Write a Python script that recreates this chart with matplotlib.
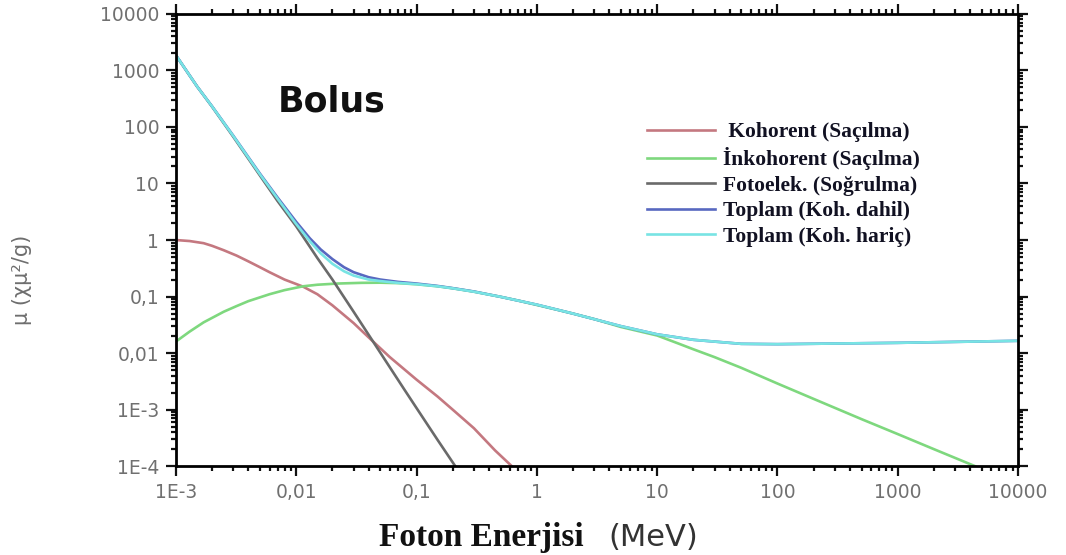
import numpy as np
import matplotlib.pyplot as plt
from matplotlib.ticker import FixedLocator, LogLocator, NullFormatter

# ---------------------------------------------------------
# data: mass attenuation components for Bolus (cm^2/g vs MeV)
# ---------------------------------------------------------
coh_E = [0.001, 0.0013, 0.0017, 0.002, 0.0025, 0.0032, 0.004, 0.005, 0.006, 0.008, 0.0114,
         0.015, 0.02, 0.03, 0.04, 0.06, 0.1, 0.15, 0.2, 0.3, 0.45, 0.62]
coh_mu = [1.0, 0.96, 0.88, 0.79, 0.66, 0.53, 0.42, 0.33, 0.27, 0.2, 0.15,
          0.11, 0.07, 0.034, 0.019, 0.0085, 0.0034, 0.0017, 0.001, 0.00047, 0.00019, 0.0001]

incoh_E = [0.001, 0.0013, 0.0017, 0.002, 0.0025, 0.0032, 0.004, 0.006, 0.008, 0.0114, 0.015,
           0.022, 0.035, 0.05, 0.07, 0.1, 0.15, 0.2, 0.3, 0.5, 0.7, 1, 1.5, 2, 3, 5,
           10, 15, 20, 30, 50, 100, 200, 500, 1000, 2000, 4400]
incoh_mu = [0.016, 0.024, 0.035, 0.042, 0.054, 0.068, 0.083, 0.11, 0.13, 0.152, 0.162,
            0.17, 0.175, 0.176, 0.173, 0.165, 0.152, 0.14, 0.122, 0.099, 0.085, 0.071, 0.058,
            0.05, 0.04, 0.029, 0.0205, 0.0148, 0.0117, 0.0085, 0.0055, 0.0029, 0.00155,
            0.00068, 0.00037, 0.0002, 0.0001]

photo_E = [0.001, 0.0015, 0.002, 0.003, 0.005, 0.007, 0.01, 0.015, 0.02, 0.03, 0.05, 0.08,
           0.1, 0.15, 0.21]
photo_mu = [1850, 520, 228, 67, 13.8, 4.9, 1.75, 0.48, 0.2, 0.054, 0.0102, 0.0022,
            0.00107, 0.00029, 0.0001]

tot_coh_E = [0.001, 0.0015, 0.002, 0.003, 0.005, 0.007, 0.01, 0.013, 0.016, 0.02, 0.025,
             0.03, 0.04, 0.05, 0.07, 0.1, 0.15, 0.2, 0.3, 0.5, 1, 2, 5, 10, 20, 50, 100,
             1000, 10000]
tot_coh_mu = [1860, 521, 231, 70, 14.9, 5.65, 2.1, 1.07, 0.68, 0.46, 0.33,
              0.27, 0.22, 0.2, 0.182, 0.17, 0.154, 0.141, 0.123, 0.099, 0.072, 0.05, 0.03,
              0.0215, 0.0172, 0.0146, 0.0144, 0.0152, 0.0165]

tot_nocoh_E = [0.001, 0.0015, 0.002, 0.003, 0.005, 0.007, 0.01, 0.013, 0.016, 0.02, 0.025,
               0.03, 0.04, 0.05, 0.07, 0.1, 0.15, 0.2, 0.3, 0.5, 1, 2, 5, 10, 20, 50, 100,
               1000, 10000]
tot_nocoh_mu = [1860, 520, 230, 69, 14.5, 5.4, 1.92, 0.95, 0.58, 0.38, 0.28,
                0.235, 0.2, 0.188, 0.175, 0.166, 0.152, 0.14, 0.122, 0.099, 0.072, 0.05, 0.03,
                0.0215, 0.0172, 0.0146, 0.0144, 0.0152, 0.0165]

x_ticks = [1e-3, 1e-2, 1e-1, 1, 10, 100, 1000, 10000]
x_labels = ["1E-3", "0,01", "0,1", "1", "10", "100", "1000", "10000"]
y_ticks = [1e-4, 1e-3, 1e-2, 1e-1, 1, 10, 100, 1000, 10000]
y_labels = ["1E-4", "1E-3", "0,01", "0,1", "1", "10", "100", "1000", "10000"]

legend_labels = [" Kohorent (Saçılma)", "İnkohorent (Saçılma)", "Fotoelek. (Soğrulma)",
                 "Toplam (Koh. dahil)", "Toplam (Koh. hariç)"]

# ---------------------------------------------------------
# figure
# ---------------------------------------------------------
fig = plt.figure(figsize=(10.66, 5.55), dpi=100)
ax = fig.add_axes([0.165, 0.160, 0.790, 0.815])

lw = 1.9
l1, = ax.plot(coh_E, coh_mu, color="#c47880", lw=lw)
l2, = ax.plot(incoh_E, incoh_mu, color="#7ed87e", lw=lw)
l3, = ax.plot(photo_E, photo_mu, color="#6a6a6a", lw=lw)
l4, = ax.plot(tot_coh_E, tot_coh_mu, color="#5868c0", lw=lw)
l5, = ax.plot(tot_nocoh_E, tot_nocoh_mu, color="#78e4e4", lw=lw)

ax.set_xscale("log")
ax.set_yscale("log")
ax.set_xlim(1e-3, 1e4)
ax.set_ylim(1e-4, 1e4)

ax.xaxis.set_major_locator(FixedLocator(x_ticks))
ax.set_xticklabels(x_labels)
ax.yaxis.set_major_locator(FixedLocator(y_ticks))
ax.set_yticklabels(y_labels)
ax.xaxis.set_minor_locator(LogLocator(base=10, subs=np.arange(2, 10), numticks=20))
ax.yaxis.set_minor_locator(LogLocator(base=10, subs=np.arange(2, 10), numticks=20))
ax.xaxis.set_minor_formatter(NullFormatter())
ax.yaxis.set_minor_formatter(NullFormatter())

for s in ax.spines.values():
    s.set_linewidth(2)
ax.tick_params(which="both", direction="out", top=True, right=True, width=1.6, colors="#111111")
ax.tick_params(which="major", length=7)
ax.tick_params(which="minor", length=3.5)
ax.tick_params(axis="both", which="major", labelsize=13.5, labelcolor="#707070", pad=5)
for lab in ax.get_xticklabels() + ax.get_yticklabels():
    lab.set_family("DejaVu Sans")

ax.text(0.121, 0.784, "Bolus", transform=ax.transAxes, fontsize=25, fontweight="bold",
        family="DejaVu Sans", color="#111111")

ax.legend([l1, l2, l3, l4, l5], legend_labels, loc="upper left", bbox_to_anchor=(0.559, 0.761),
          frameon=False, handlelength=3.16, handletextpad=0.37, labelspacing=0.25, borderpad=0,
          borderaxespad=0, prop={"family": "Liberation Serif", "weight": "bold", "size": 15.5},
          labelcolor="#111122")

fig.text(0.021, 0.495, "µ (χµ²/g)", rotation=90, ha="center", va="center",
         fontsize=15, color="#6e6e6e", family="DejaVu Sans")
fig.text(0.356, 0.032, "Foton Enerjisi", ha="left", va="center", fontsize=24,
         fontweight="bold", family="Liberation Serif", color="#111111")
fig.text(0.571, 0.032, "(MeV)", ha="left", va="center", fontsize=22,
         family="DejaVu Sans", color="#333333")

fig.savefig("out.png", dpi=100)
